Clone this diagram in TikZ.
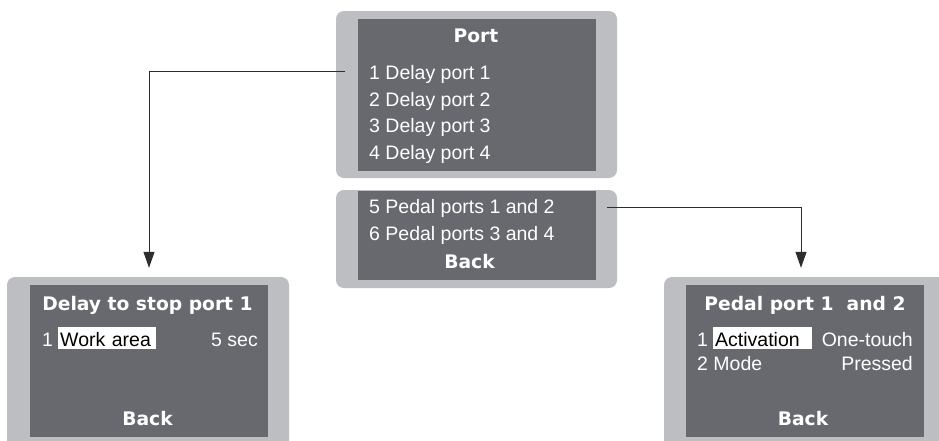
\documentclass[tikz,border=0pt]{standalone}
\usepackage{fontspec}
\setmainfont{Liberation Sans}
\newfontfamily\lcdbold{DejaVu Sans}
\usepackage{tikz}
\usetikzlibrary{arrows.meta}
\definecolor{bezelgray}{RGB}{189,190,194}
\definecolor{screengray}{RGB}{104,105,110}
\definecolor{linegray}{RGB}{45,45,45}
\newcommand{\menufont}{\fontsize{19.5}{24}\selectfont}
\newcommand{\headfont}{\lcdbold\bfseries\fontsize{18.7}{22}\selectfont}
\tikzstyle{bezel} = [rectangle, rounded corners=8pt, fill=bezelgray, inner sep=0]
\tikzstyle{screen} = [rectangle, fill=screengray, inner sep=0]
\tikzstyle{menuText} = [text=white, font=\menufont, inner sep=0, anchor=base west]
\tikzstyle{valueText} = [text=white, font=\menufont, inner sep=0, anchor=base east]
\tikzstyle{titleText} = [text=white, font=\headfont, inner sep=0, anchor=base]
\tikzstyle{selected} = [fill=white, text=black, font=\menufont, inner xsep=2pt, inner ysep=0, text height=20pt, text depth=2.5pt, align=left, anchor=base west]
\tikzstyle{arrow} = [line width=1pt, draw=linegray, -{Triangle[length=16pt,width=11pt]}, shorten >=17pt]

\begin{document}
\begin{tikzpicture}[x=1pt, y=-1pt]
                                \path [use as bounding box, fill=white] (0,0) rectangle (939,440);
                                % port menu
                                \node (portBezel) [bezel, minimum width=281pt, minimum height=167pt] at (476.5,94.5) {};
                                \node (portScreen) [screen, minimum width=238pt, minimum height=152pt] at (477,95) {};
                                \node (portTitle) [titleText] at (476,42.5) {Port};
                                \node (p1) [menuText] at (369,79) {1 Delay port 1};
                                \node (p2) [menuText] at (369,106) {2 Delay port 2};
                                \node (p3) [menuText] at (369,132.5) {3 Delay port 3};
                                \node (p4) [menuText] at (369,159.5) {4 Delay port 4};
                                \node (moreBezel) [bezel, minimum width=281pt, minimum height=98pt] at (476.5,239) {};
                                \node (moreScreen) [screen, minimum width=238pt, minimum height=89pt] at (477,235.5) {};
                                \node (p5) [menuText] at (369,213.5) {5 Pedal ports 1 and 2};
                                \node (p6) [menuText] at (369,240) {6 Pedal ports 3 and 4};
                                \node (portBack) [titleText] at (469.5,268.5) {Back};
                                % delay screen
                                \node (delayBezel) [bezel, minimum width=282pt, minimum height=173pt] at (148,363.5) {};
                                \node (delayScreen) [screen, minimum width=238pt, minimum height=152pt] at (149,361) {};
                                \node (delayTitle) [titleText] at (147.5,310) {Delay to stop port 1};
                                \node (d1) [menuText] at (42,346.5) {1};
                                \node (workSel) [selected, text width=94pt] at (58,346.5) {Work area};
                                \node (workVal) [valueText] at (258,346.5) {5 sec};
                                \node (delayBack) [titleText] at (147.5,425) {Back};
                                % pedal screen
                                \node (pedalBezel) [bezel, minimum width=286pt, minimum height=173pt] at (807,363.5) {};
                                \node (pedalScreen) [screen, minimum width=238pt, minimum height=152pt] at (805,361) {};
                                \node (pedalTitle) [titleText] at (805,310) {Pedal port 1\ \ and 2};
                                \node (e1) [menuText] at (697,346.5) {1};
                                \node (actSel) [selected, text width=95pt] at (713,346.5) {Activation};
                                \node (actVal) [valueText] at (913,346.5) {One-touch};
                                \node (e2) [menuText] at (697,370.5) {2 Mode};
                                \node (modeVal) [valueText] at (913,370.5) {Pressed};
                                \node (pedalBack) [titleText] at (803,425) {Back};
                                % connectors
                                \coordinate (portOut) at (345,71);
                                \coordinate (pedalOut) at (607,207);
                                \draw [arrow] (portOut) -| (delayScreen.north);
                                \draw [arrow] (pedalOut) -| ([xshift=-4pt]pedalScreen.north);
                            \end{tikzpicture}
\end{document}
